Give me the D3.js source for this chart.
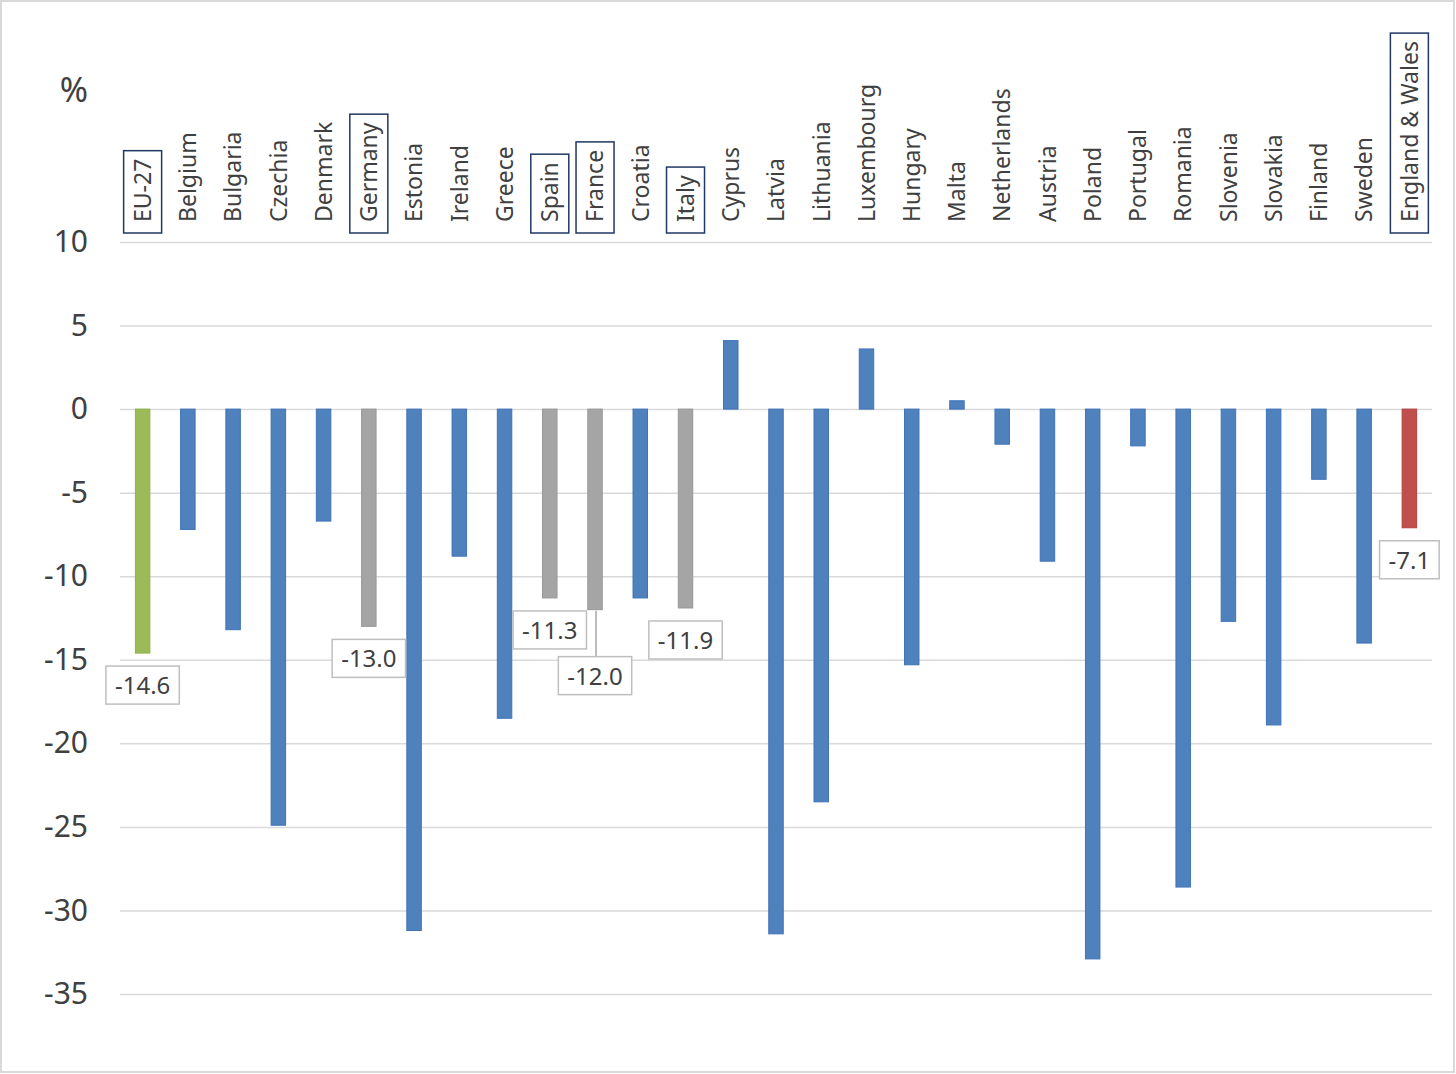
<!DOCTYPE html>
<html>
<head>
<meta charset="utf-8">
<script src="https://cdn.jsdelivr.net/npm/d3@7"></script>
<style>
  body { margin: 0; background: #fff; }
  svg { display: block; font-family: "Noto Sans", "Open Sans", sans-serif; }
</style>
</head>
<body>
<svg id="chart" width="1456" height="1074"></svg>
<script>
const categories = ["EU-27", "Belgium", "Bulgaria", "Czechia", "Denmark", "Germany", "Estonia", "Ireland",
  "Greece", "Spain", "France", "Croatia", "Italy", "Cyprus", "Latvia", "Lithuania", "Luxembourg",
  "Hungary", "Malta", "Netherlands", "Austria", "Poland", "Portugal", "Romania", "Slovenia",
  "Slovakia", "Finland", "Sweden", "England & Wales"];
const values = [-14.6, -7.2, -13.2, -24.9, -6.7, -13.0, -31.2, -8.8,
  -18.5, -11.3, -12.0, -11.3, -11.9, 4.1, -31.4, -23.5, 3.6,
  -15.3, 0.5, -2.1, -9.1, -32.9, -2.2, -28.6, -12.7,
  -18.9, -4.2, -14.0, -7.1];
const yTicks = [10, 5, 0, -5, -10, -15, -20, -25, -30, -35];
const greenCats = ["EU-27"];
const grayCats = ["Germany", "Spain", "France", "Italy"];
const redCats = ["England & Wales"];
const labelledCats = ["EU-27", "Germany", "Spain", "France", "Italy", "England & Wales"];

const data = categories.map((c, i) => ({name: c, value: values[i]}));

const svg = d3.select("#chart");
const plotLeft = 120, plotRight = 1432, plotTop = 242, plotBottom = 994;

// outer frame
svg.append("rect").attr("x", 1).attr("y", 1).attr("width", 1453).attr("height", 1071)
  .attr("fill", "#fff").attr("stroke", "#d9d9d9").attr("stroke-width", 2);

const x = d3.scaleBand().domain(categories).range([plotLeft, plotRight]).paddingInner(0.68).paddingOuter(0.34);
const y = d3.scaleLinear().domain([-35, 10]).range([plotBottom, plotTop]);

// gridlines
svg.append("g")
  .attr("transform", `translate(${plotLeft},0)`)
  .call(d3.axisLeft(y).tickValues(yTicks).tickSize(-(plotRight - plotLeft)).tickFormat(""))
  .call(g => g.select(".domain").remove())
  .call(g => g.selectAll("line").attr("stroke", "#d9d9d9").attr("stroke-width", 1.5));

// y tick labels (plain hyphen like the original)
svg.append("g")
  .attr("transform", "translate(88,0)")
  .call(d3.axisLeft(y).tickValues(yTicks).tickSize(0).tickPadding(0).tickFormat(d => String(d)))
  .call(g => g.select(".domain").remove())
  .call(g => g.selectAll("text").attr("fill", "#404040").style("font-size", "30px")
    .style("font-family", "'Noto Sans', sans-serif"));

svg.append("text").attr("x", 88).attr("y", 102).attr("text-anchor", "end")
  .attr("fill", "#404040").style("font-size", "34px").text("%");

const fillFor = d => greenCats.includes(d.name) ? "#9bbb59"
  : grayCats.includes(d.name) ? "#a5a5a5"
  : redCats.includes(d.name) ? "#c0504d" : "#4f81bd";
const strokeFor = d => greenCats.includes(d.name) ? "#8cb342"
  : grayCats.includes(d.name) ? "#989898"
  : redCats.includes(d.name) ? "#b5403d" : "#3f73b8";

svg.append("g").selectAll("rect").data(data).join("rect")
  .attr("x", d => x(d.name))
  .attr("y", d => y(Math.max(0, d.value)))
  .attr("width", x.bandwidth())
  .attr("height", d => Math.abs(y(d.value) - y(0)))
  .attr("fill", fillFor)
  .attr("stroke", strokeFor)
  .attr("stroke-width", 1);

// category labels, rotated
const cat = svg.append("g").selectAll("g").data(data).join("g")
  .attr("transform", d => `translate(${x(d.name) + x.bandwidth() / 2},222) rotate(-90)`);
cat.append("text")
  .attr("dy", "0.36em")
  .attr("fill", "#404040")
  .style("font-size", "23px")
  .text(d => d.name);
cat.filter(d => labelledCats.includes(d.name)).each(function() {
  const g = d3.select(this);
  const b = g.select("text").node().getBBox();
  g.insert("rect", "text")
    .attr("x", -11).attr("y", -19)
    .attr("width", b.width + 19).attr("height", 38)
    .attr("fill", "none").attr("stroke", "#1f3864").attr("stroke-width", 1.5);
});

// data labels
const extraDrop = {"France": 47};
const dl = svg.append("g").selectAll("g").data(data.filter(d => labelledCats.includes(d.name))).join("g")
  .attr("transform", d => `translate(${x(d.name) + x.bandwidth() / 2},${y(d.value) + (extraDrop[d.name] || 13)})`);
dl.each(function(d) {
  const g = d3.select(this);
  if (extraDrop[d.name]) {
    g.append("line").attr("x1", 1).attr("x2", 1).attr("y1", 0).attr("y2", -extraDrop[d.name] + 1)
      .attr("stroke", "#a6a6a6").attr("stroke-width", 1.5);
  }
  const t = g.append("text").attr("text-anchor", "middle").attr("y", 28)
    .attr("fill", "#404040").style("font-size", "24px").text(d.value.toFixed(1));
  const b = t.node().getBBox();
  g.insert("rect", "text")
    .attr("x", b.x - 9).attr("y", 0)
    .attr("width", b.width + 18).attr("height", 38)
    .attr("fill", "#fff").attr("stroke", "#bfbfbf").attr("stroke-width", 1.5);
});
</script>
</body>
</html>
